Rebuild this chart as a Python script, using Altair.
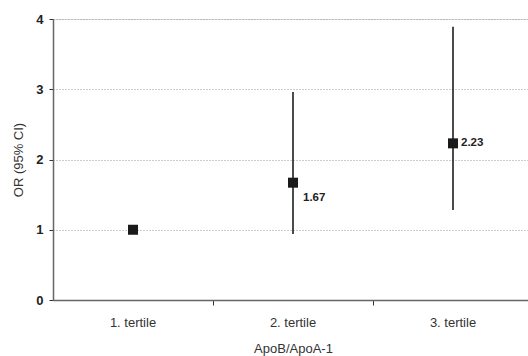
import altair as alt
import pandas as pd

categories = ["1. tertile", "2. tertile", "3. tertile"]
positions = [1, 2, 3]
odds = [1.0, 1.67, 2.23]
lower = [1.0, 0.94, 1.28]
upper = [1.0, 2.96, 3.89]
labels = ["", "1.67", "2.23"]

df = pd.DataFrame({"cat": categories, "pos": positions, "or": odds,
                   "lo": lower, "hi": upper, "lab": labels})

xscale = alt.Scale(domain=[0.5, 0.5 + 475 / 160], nice=False, zero=False)
yscale = alt.Scale(domain=[0, 4], nice=False)

xaxis = alt.Axis(values=[1.5, 2.5], labels=False, grid=False, tickSize=5,
                 tickColor="#333", domainColor="#666", domainWidth=1.5,
                 title="ApoB/ApoA-1", titleFont="Liberation Sans", titleFontSize=13,
                 titleFontWeight="normal", titleColor="#333", titleX=240, titleY=48,
                 titleBaseline="middle")
yaxis = alt.Axis(values=[0, 1, 2, 3, 4], format="d", grid=True, gridDash=[1, 2],
                 gridColor="#999", gridWidth=1, tickSize=4, tickColor="#333",
                 domainColor="#666", domainWidth=1.5, labelFont="Liberation Sans",
                 labelFontSize=13, labelFontWeight="bold", labelColor="#222",
                 labelPadding=6, title="OR (95% CI)", titleFont="Liberation Sans",
                 titleFontSize=13, titleFontWeight="normal", titleColor="#333",
                 titlePadding=10)

base = alt.Chart(df)

rules = base.transform_filter("datum.hi > datum.lo").mark_rule(color="#111", strokeWidth=1.5).encode(
    x=alt.X("pos:Q", scale=xscale, axis=xaxis),
    y=alt.Y("lo:Q", scale=yscale, axis=yaxis),
    y2="hi:Q",
)

points = base.mark_square(size=100, color="#1a1a1a", opacity=1).encode(
    x=alt.X("pos:Q", scale=xscale),
    y=alt.Y("or:Q", scale=yscale),
)

text2 = base.transform_filter("datum.pos == 2").mark_text(
    align="left", baseline="middle", dx=10, dy=15, font="Liberation Sans",
    fontSize=11.5, fontWeight="bold", color="#222").encode(
    x=alt.X("pos:Q", scale=xscale), y=alt.Y("or:Q", scale=yscale), text="lab:N")

text3 = base.transform_filter("datum.pos == 3").mark_text(
    align="left", baseline="middle", dx=8, dy=0, font="Liberation Sans",
    fontSize=11.5, fontWeight="bold", color="#222").encode(
    x=alt.X("pos:Q", scale=xscale), y=alt.Y("or:Q", scale=yscale), text="lab:N")

catlabels = base.mark_text(align="center", baseline="middle", font="Liberation Sans",
                           fontSize=13, color="#333").encode(
    x=alt.X("pos:Q", scale=xscale), y=alt.value(304), text="cat:N")

chart = alt.layer(rules, points, text2, text3, catlabels).properties(
    width=475, height=281,
    autosize=alt.AutoSizeParams(type="none"),
    padding={"left": 53, "top": 19, "right": 0, "bottom": 56},
).configure_view(stroke=None).configure(background="white")

chart.save("out.html", embed_options={"renderer": "svg", "actions": False})
